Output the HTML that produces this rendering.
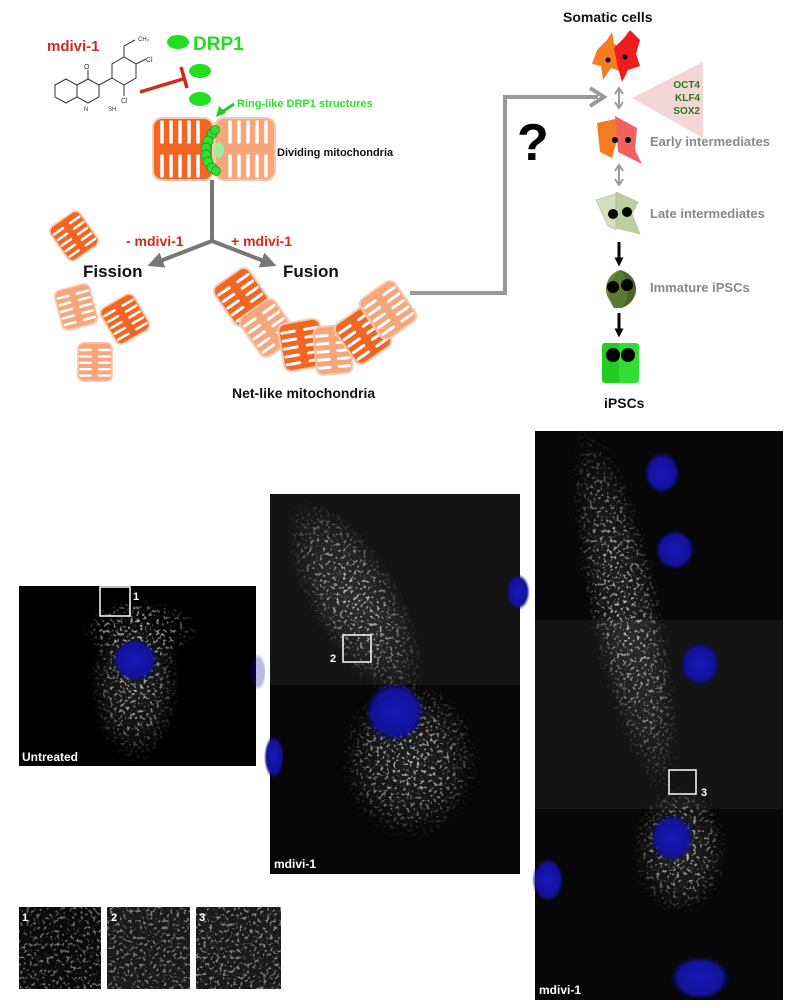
<!DOCTYPE html>
<html><head><meta charset="utf-8"><style>
html,body{margin:0;padding:0;background:#fff;}
svg{display:block;font-family:"Liberation Sans",sans-serif;}
</style></head><body>
<svg width="800" height="1008" viewBox="0 0 800 1008" xmlns="http://www.w3.org/2000/svg">
<defs>
<g id="mitoD">
<rect x="-20" y="-24" width="40" height="48" rx="7" fill="#f26522" stroke="#f8c9ad" stroke-width="2"/>
<g stroke="#fff" stroke-width="3" stroke-linecap="round">
<line x1="-17" y1="-15" x2="-5" y2="-15"/><line x1="-17" y1="-7" x2="-5" y2="-7"/><line x1="-17" y1="1" x2="-5" y2="1"/><line x1="-17" y1="9" x2="-5" y2="9"/><line x1="-17" y1="17" x2="-5" y2="17"/>
<line x1="5" y1="-15" x2="17" y2="-15"/><line x1="5" y1="-7" x2="17" y2="-7"/><line x1="5" y1="1" x2="17" y2="1"/><line x1="5" y1="9" x2="17" y2="9"/><line x1="5" y1="17" x2="17" y2="17"/>
</g></g>
<g id="mitoL">
<rect x="-20" y="-24" width="40" height="48" rx="7" fill="#f7a57a" stroke="#f8c9ad" stroke-width="2"/>
<g stroke="#fff" stroke-width="3" stroke-linecap="round">
<line x1="-17" y1="-15" x2="-5" y2="-15"/><line x1="-17" y1="-7" x2="-5" y2="-7"/><line x1="-17" y1="1" x2="-5" y2="1"/><line x1="-17" y1="9" x2="-5" y2="9"/><line x1="-17" y1="17" x2="-5" y2="17"/>
<line x1="5" y1="-15" x2="17" y2="-15"/><line x1="5" y1="-7" x2="17" y2="-7"/><line x1="5" y1="1" x2="17" y2="1"/><line x1="5" y1="9" x2="17" y2="9"/><line x1="5" y1="17" x2="17" y2="17"/>
</g></g>
<radialGradient id="glow"><stop offset="0" stop-color="#fff" stop-opacity="1"/><stop offset="0.6" stop-color="#fff" stop-opacity="0.6"/><stop offset="1" stop-color="#fff" stop-opacity="0"/></radialGradient>
<radialGradient id="nuc"><stop offset="0" stop-color="#1818b8"/><stop offset="0.75" stop-color="#12129a"/><stop offset="1" stop-color="#0a0a60" stop-opacity="0"/></radialGradient>
<filter id="fil" x="0" y="0" width="100%" height="100%" color-interpolation-filters="sRGB">
<feTurbulence type="fractalNoise" baseFrequency="0.3" numOctaves="2" seed="5" result="n"/>
<feColorMatrix in="n" type="matrix" values="0 0 0 0 1  0 0 0 0 1  0 0 0 0 1  6 0 0 0 -3.3" result="s"/>
<feComposite in="s" in2="SourceGraphic" operator="in"/>
</filter>
<marker id="ga" markerWidth="4" markerHeight="4" refX="2" refY="2" orient="auto"><path d="M0,0 L4,2 L0,4 Z" fill="#777"/></marker>
<marker id="ba" markerWidth="3" markerHeight="3" refX="1.5" refY="1.5" orient="auto"><path d="M0,0 L3,1.5 L0,3 Z" fill="#000"/></marker>
</defs>

<!-- chemical structure -->
<g stroke="#333" stroke-width="1" fill="none">
<polygon points="55,85 66,79 77,85 77,97 66,103 55,97"/>
<polygon points="77,85 88,79 99,85 99,97 88,103 77,97"/>
<line x1="88" y1="79" x2="88" y2="70"/>
<line x1="99" y1="85" x2="112" y2="78"/>
<polygon points="112,78 112,64 124,57 136,64 136,78 124,85"/>
<line x1="124" y1="57" x2="124" y2="46"/><line x1="124" y1="46" x2="135" y2="40"/>
<line x1="136" y1="64" x2="146" y2="59"/><line x1="124" y1="85" x2="124" y2="96"/>
</g>
<text x="84" y="69" font-size="7" fill="#333">O</text>
<text x="138" y="41" font-size="6" fill="#333">CH₃</text>
<text x="146" y="62" font-size="7" fill="#333">Cl</text>
<text x="121" y="103" font-size="7" fill="#333">Cl</text>
<text x="84" y="111" font-size="6" fill="#333">N</text>
<text x="108" y="111" font-size="6" fill="#333">SH</text>
<text x="47" y="51" font-size="15" font-weight="bold" fill="#d42a1e">mdivi-1</text>

<!-- DRP1 -->
<ellipse cx="178" cy="42" rx="11" ry="7" fill="#22dd22"/>
<ellipse cx="200" cy="71" rx="11" ry="7" fill="#22dd22"/>
<ellipse cx="200" cy="99" rx="11" ry="7" fill="#22dd22"/>
<text x="193" y="50" font-size="19" font-weight="bold" fill="#22dd22">DRP1</text>
<line x1="140" y1="92" x2="183" y2="79" stroke="#d42a1e" stroke-width="3.5"/>
<line x1="181" y1="67" x2="187" y2="88" stroke="#d42a1e" stroke-width="3.5"/>
<text x="237" y="107" font-size="11" font-weight="bold" fill="#33dd33">Ring-like DRP1 structures</text>
<line x1="234" y1="104" x2="222" y2="112" stroke="#22cc22" stroke-width="3"/>
<path d="M216,117 L219,106 L226,113 Z" fill="#22cc22"/>

<!-- dividing mitochondria -->
<rect x="153" y="118" width="60" height="62" rx="9" fill="#f26522" stroke="#f8c9ad" stroke-width="2"/>
<rect x="215" y="118" width="60" height="62" rx="9" fill="#f7a57a" stroke="#f8c9ad" stroke-width="2"/>
<g stroke="#fff" stroke-width="3.5" stroke-linecap="round">
<line x1="162" y1="122" x2="162" y2="142"/><line x1="171" y1="122" x2="171" y2="142"/><line x1="180" y1="122" x2="180" y2="142"/><line x1="189" y1="122" x2="189" y2="142"/><line x1="198" y1="122" x2="198" y2="142"/>
<line x1="162" y1="156" x2="162" y2="176"/><line x1="171" y1="156" x2="171" y2="176"/><line x1="180" y1="156" x2="180" y2="176"/><line x1="189" y1="156" x2="189" y2="176"/><line x1="198" y1="156" x2="198" y2="176"/>
<line x1="230" y1="122" x2="230" y2="142"/><line x1="239" y1="122" x2="239" y2="142"/><line x1="248" y1="122" x2="248" y2="142"/><line x1="257" y1="122" x2="257" y2="142"/><line x1="266" y1="122" x2="266" y2="142"/>
<line x1="230" y1="156" x2="230" y2="176"/><line x1="239" y1="156" x2="239" y2="176"/><line x1="248" y1="156" x2="248" y2="176"/><line x1="257" y1="156" x2="257" y2="176"/><line x1="266" y1="156" x2="266" y2="176"/>
</g>
<g fill="#33dd33" stroke="#119911" stroke-width="0.7">
<circle cx="212" cy="134" r="5"/><circle cx="208" cy="141" r="5"/><circle cx="206" cy="148" r="5"/><circle cx="206" cy="155" r="5"/><circle cx="208" cy="162" r="5"/><circle cx="212" cy="168" r="5"/><circle cx="216" cy="171" r="4.5"/><circle cx="215" cy="130" r="4.5"/>
</g>
<ellipse cx="219" cy="150" rx="5" ry="8" fill="#99ee99"/>
<text x="277" y="156" font-size="11" font-weight="bold" fill="#111">Dividing mitochondria</text>

<!-- branching arrows -->
<line x1="212" y1="180" x2="212" y2="241" stroke="#777" stroke-width="4"/>
<line x1="212" y1="241" x2="155" y2="263" stroke="#777" stroke-width="4" marker-end="url(#ga)"/>
<line x1="212" y1="241" x2="269" y2="263" stroke="#777" stroke-width="4" marker-end="url(#ga)"/>
<text x="126" y="246" font-size="14" font-weight="bold" fill="#d42a1e">- mdivi-1</text>
<text x="231" y="246" font-size="14" font-weight="bold" fill="#d42a1e">+ mdivi-1</text>
<text x="83" y="277" font-size="17" font-weight="bold" fill="#111">Fission</text>
<text x="283" y="277" font-size="17" font-weight="bold" fill="#111">Fusion</text>

<!-- fission pieces -->
<use href="#mitoD" transform="translate(74,236) rotate(-35) scale(0.9,0.85)"/>
<use href="#mitoL" transform="translate(76,307) rotate(-15) scale(0.9,0.85)"/>
<use href="#mitoD" transform="translate(125,319) rotate(-30) scale(0.95,0.85)"/>
<use href="#mitoL" transform="translate(95,362) rotate(0) scale(0.85,0.8)"/>

<!-- net-like chain -->
<use href="#mitoD" transform="translate(242,297) rotate(-35) scale(1.05,1)"/>
<use href="#mitoL" transform="translate(268,328) rotate(-35) scale(1.05,1)"/>
<use href="#mitoD" transform="translate(302,345) rotate(-10) scale(1.05,1)"/>
<use href="#mitoL" transform="translate(333,350) rotate(-5) scale(0.9,1)"/>
<use href="#mitoD" transform="translate(363,335) rotate(-35) scale(1.05,1)"/>
<use href="#mitoL" transform="translate(388,310) rotate(-35) scale(1.05,1)"/>
<text x="232" y="398" font-size="14" font-weight="bold" fill="#111">Net-like mitochondria</text>

<!-- connector to reprogramming -->
<polyline points="410,293 505,293 505,97 598,97" fill="none" stroke="#999" stroke-width="4"/>
<path d="M590,88 L604,97 L590,106" fill="none" stroke="#999" stroke-width="4"/>
<text x="517" y="160" font-size="52" font-weight="bold" fill="#000">?</text>

<!-- reprogramming -->
<text x="563" y="22" font-size="14" font-weight="bold" fill="#111">Somatic cells</text>
<path d="M597,50 L607,40 L612,32 L614,44 L625,48 L618,58 L622,72 L611,68 L603,80 L601,66 L592,64 Z" fill="#f57c20"/>
<path d="M614,48 L624,38 L630,30 L640,40 L636,54 L640,66 L628,70 L622,82 L618,68 Z" fill="#ee1c1c"/>
<circle cx="608" cy="60" r="2.5" fill="#000"/><circle cx="625" cy="57" r="2.5" fill="#000"/>
<line x1="619" y1="90" x2="619" y2="106" stroke="#999" stroke-width="2"/>
<path d="M615,94 L619,88 L623,94 M615,102 L619,108 L623,102" fill="none" stroke="#999" stroke-width="2"/>
<polygon points="632,98 703,62 703,138" fill="#f5d6d6"/>
<text x="700" y="88" font-size="10" font-weight="bold" fill="#2a7a1a" text-anchor="end">OCT4</text>
<text x="700" y="101" font-size="10" font-weight="bold" fill="#2a7a1a" text-anchor="end">KLF4</text>
<text x="700" y="114" font-size="10" font-weight="bold" fill="#2a7a1a" text-anchor="end">SOX2</text>
<path d="M597,123 L620,118 L617,140 L612,158 L600,152 Z" fill="#f57c20"/>
<path d="M615,116 L637,128 L635,150 L642,164 L618,152 Z" fill="#f26060"/>
<circle cx="615" cy="140" r="3" fill="#000"/><circle cx="628" cy="140" r="3" fill="#000"/>
<text x="650" y="146" font-size="13" font-weight="bold" fill="#888">Early intermediates</text>
<line x1="619" y1="167" x2="619" y2="183" stroke="#999" stroke-width="2"/>
<path d="M615,171 L619,165 L623,171 M615,179 L619,185 L623,179" fill="none" stroke="#999" stroke-width="2"/>
<path d="M596,200 L618,193 L616,230 L608,226 Z" fill="#d4dfbf" stroke="#aab890" stroke-width="0.6"/>
<path d="M616,192 L638,202 L632,214 L640,234 L616,228 Z" fill="#bccd9f" stroke="#aab890" stroke-width="0.6"/>
<circle cx="613" cy="214" r="5" fill="#000"/><circle cx="627" cy="212" r="5" fill="#000"/>
<text x="650" y="218" font-size="13" font-weight="bold" fill="#888">Late intermediates</text>
<line x1="619" y1="242" x2="619" y2="262" stroke="#000" stroke-width="3" marker-end="url(#ba)"/>
<path d="M620,270 C603,275 600,300 620,308 C615,295 615,280 620,270 Z" fill="#6a8a3a"/>
<path d="M620,270 C640,275 642,300 622,308 C627,295 627,280 620,270 Z" fill="#4a6628"/>
<path d="M620,270 C608,280 606,298 614,308 L622,308 C630,298 630,280 620,270 Z" fill="#5a7a30"/>
<circle cx="613" cy="287" r="6" fill="#000"/><circle cx="627" cy="285" r="6" fill="#000"/>
<text x="650" y="292" font-size="13" font-weight="bold" fill="#888">Immature iPSCs</text>
<line x1="619" y1="313" x2="619" y2="333" stroke="#000" stroke-width="3" marker-end="url(#ba)"/>
<rect x="602" y="343" width="20" height="40" rx="3" fill="#22cc22"/>
<rect x="619" y="343" width="20" height="40" rx="3" fill="#33dd33"/>
<circle cx="613" cy="355" r="7" fill="#000"/><circle cx="628" cy="355" r="7" fill="#000"/>
<text x="604" y="408" font-size="14" font-weight="bold" fill="#111">iPSCs</text>

<!-- Panel 1 -->
<rect x="19" y="586" width="237" height="180" fill="#000"/>
<g opacity="0.12">
<ellipse cx="135" cy="680" rx="45" ry="80" fill="url(#glow)"/>
</g>
<g filter="url(#fil)" opacity="0.75">
<rect x="19" y="586" width="237" height="180" fill="none"/>
<ellipse cx="135" cy="680" rx="45" ry="85" fill="url(#glow)"/>
<ellipse cx="140" cy="630" rx="60" ry="30" fill="url(#glow)"/>
</g>
<ellipse cx="135" cy="660" rx="23" ry="22" fill="url(#nuc)"/>
<ellipse cx="258" cy="672" rx="8" ry="18" fill="url(#nuc)" opacity="0.3"/>
<rect x="100" y="587" width="30" height="29" fill="none" stroke="#fff" stroke-width="1.5"/>
<text x="133" y="600" font-size="11" font-weight="bold" fill="#fff">1</text>
<text x="22" y="761" font-size="12" font-weight="bold" fill="#fff">Untreated</text>

<!-- Panel 2 -->
<rect x="270" y="494" width="250" height="380" fill="#060606"/>
<rect x="270" y="494" width="250" height="191" fill="#141414"/>
<g opacity="0.1">
<ellipse cx="355" cy="600" rx="45" ry="110" fill="url(#glow)" transform="rotate(-30 355 600)"/>
<ellipse cx="410" cy="760" rx="65" ry="75" fill="url(#glow)"/>
</g>
<g filter="url(#fil)" opacity="0.75">
<rect x="270" y="494" width="250" height="380" fill="none"/>
<ellipse cx="355" cy="600" rx="45" ry="115" fill="url(#glow)" transform="rotate(-30 355 600)"/>
<ellipse cx="410" cy="760" rx="70" ry="80" fill="url(#glow)"/>
</g>
<ellipse cx="395" cy="712" rx="30" ry="30" fill="url(#nuc)"/>
<ellipse cx="518" cy="592" rx="12" ry="18" fill="url(#nuc)"/>
<ellipse cx="274" cy="757" rx="10" ry="22" fill="url(#nuc)"/>
<rect x="343" y="635" width="28" height="27" fill="none" stroke="#fff" stroke-width="1.5"/>
<text x="330" y="662" font-size="11" font-weight="bold" fill="#fff">2</text>
<text x="274" y="868" font-size="12" font-weight="bold" fill="#fff">mdivi-1</text>

<!-- Panel 3 -->
<rect x="535" y="431" width="248" height="569" fill="#070707"/>
<rect x="535" y="620" width="248" height="189" fill="#141414"/>
<g opacity="0.1">
<ellipse cx="625" cy="610" rx="35" ry="180" fill="url(#glow)" transform="rotate(-12 625 610)"/>
<ellipse cx="680" cy="850" rx="45" ry="60" fill="url(#glow)"/>
</g>
<g filter="url(#fil)" opacity="0.75">
<rect x="535" y="431" width="248" height="569" fill="none"/>
<ellipse cx="625" cy="610" rx="38" ry="190" fill="url(#glow)" transform="rotate(-12 625 610)"/>
<ellipse cx="680" cy="850" rx="48" ry="65" fill="url(#glow)"/>
</g>
<ellipse cx="662" cy="473" rx="18" ry="21" fill="url(#nuc)"/>
<ellipse cx="675" cy="550" rx="20" ry="20" fill="url(#nuc)"/>
<ellipse cx="700" cy="664" rx="20" ry="22" fill="url(#nuc)"/>
<ellipse cx="672" cy="838" rx="22" ry="24" fill="url(#nuc)"/>
<ellipse cx="548" cy="880" rx="16" ry="22" fill="url(#nuc)"/>
<ellipse cx="700" cy="978" rx="30" ry="22" fill="url(#nuc)"/>
<rect x="669" y="770" width="27" height="24" fill="none" stroke="#fff" stroke-width="1.5"/>
<text x="701" y="796" font-size="11" font-weight="bold" fill="#fff">3</text>
<text x="539" y="994" font-size="12" font-weight="bold" fill="#fff">mdivi-1</text>

<!-- insets -->
<rect x="19" y="907" width="82" height="82" fill="#0a0a0a"/>
<rect x="107" y="907" width="83" height="82" fill="#1a1a1a"/>
<rect x="196" y="907" width="85" height="82" fill="#1a1a1a"/>
<g filter="url(#fil)" opacity="0.6">
<rect x="19" y="907" width="262" height="82" fill="none"/>
<rect x="19" y="907" width="82" height="82" fill="#fff" opacity="0.7"/>
<rect x="107" y="907" width="83" height="82" fill="#fff" opacity="0.7"/>
<rect x="196" y="907" width="85" height="82" fill="#fff" opacity="0.8"/>
</g>
<text x="22" y="921" font-size="11" font-weight="bold" fill="#fff">1</text>
<text x="111" y="921" font-size="11" font-weight="bold" fill="#fff">2</text>
<text x="199" y="921" font-size="11" font-weight="bold" fill="#fff">3</text>
</svg>
</body></html>
